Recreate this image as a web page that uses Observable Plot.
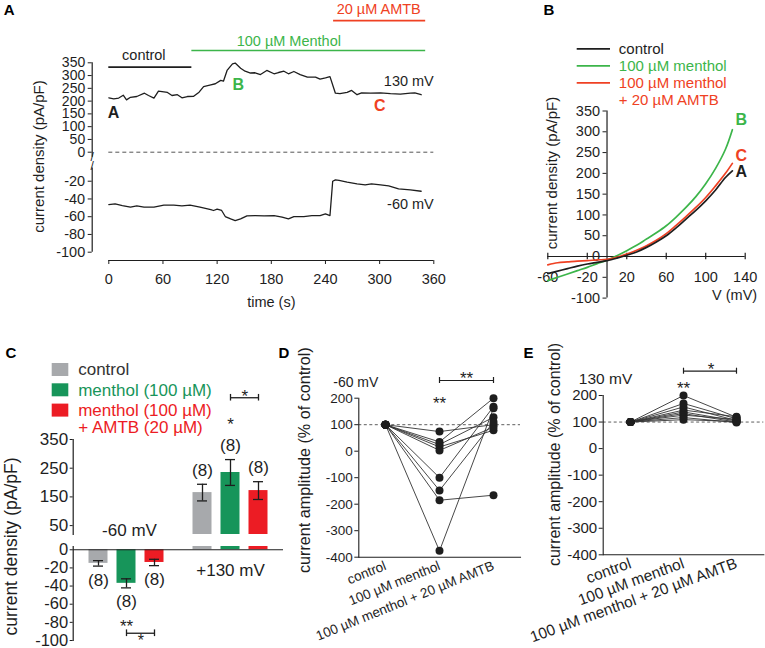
<!DOCTYPE html>
<html><head><meta charset="utf-8">
<script src="https://cdn.jsdelivr.net/npm/d3@7"></script>
<script src="https://cdn.jsdelivr.net/npm/@observablehq/plot@0.6"></script>
<style>
html,body{margin:0;padding:0;background:#fff;}
#fig{position:relative;width:765px;height:648px;overflow:hidden;background:#fff;}
#fig svg{position:absolute;left:0;top:0;background:transparent !important;overflow:visible;max-width:none !important;}
</style></head>
<body><div id="fig"></div>
<script>
// ================= DATA =================
// Panel A: time course at +130 mV and -60 mV
const timeA130 = [0,5.5,11,16,19.6,24,31,39.5,44,50,55,65,70,76,81,87,94,100,105,113,118,124,127,131,137,140,146,151,157,162,168,175,183,188,194,199,205,212,220,229,234,240,245,251,256,264,269,275,280,290,301,312,323,334,339,346];
const currentA130 = [213,209,212,223,205,215,218,231,222,212,239,234,222,225,213,218,219,235,257,264,268,281,278,320,346,349,329,317,310,311,304,320,307,312,317,307,316,304,294,294,286,291,296,231,229,234,242,225,232,231,232,229,227,231,232,225];
const timeA60 = [0,7,15,24,31,39,50,61,72,81,90,101,113,116,120,125,129,135,140,146,153,162,172,183,192,199,205,216,225,234,240,245,248,251,255,264,275,284,291,301,310,321,334,346];
const currentA60 = [-46.3,-45.5,-47.4,-49.3,-47.8,-49.3,-49.3,-47,-47,-47.8,-47,-49.3,-52,-53,-51.5,-53,-59.8,-62.4,-64.3,-62.4,-59,-58.7,-59,-58.7,-60.6,-62.4,-59.8,-59.8,-58.7,-58.7,-56.8,-58.7,-20,-18.5,-19,-21.1,-23,-24.1,-23,-24.1,-25.3,-28.6,-29.8,-31.3];
const periodLabels = ["control", "100 µM Menthol", "20 µM AMTB"];
const periodStart = [0, 92, 249];
const periodEnd = [92, 351, 351];
const timeTicksA = [0,60,120,180,240,300,360];
const upperTicksA = [0,50,100,150,200,250,300,350];
const lowerTicksA = [-20,-40,-60,-80,-100];

// Panel B: I-V relations
const voltageB = [-60,-50,-40,-30,-20,-10,0,10,20,30,40,50,60,70,80,90,100,110,120,127];
const ivControl = [-41,-35,-29,-23,-18,-14,-10,-4,3,11,22,35,50,69,90,111,134,160,190,206];
const ivMenthol = [-58,-50,-42,-34,-26,-17,-9,2,14,27,42,57,74,95,118,144,175,212,258,305];
const ivAmtb = [-20,-15,-13,-11,-10,-8,-7,-2,6,15,26,39,55,75,96,118,142,170,200,224];
const legendB = ["control", "100 µM menthol", "100 µM menthol\n+ 20 µM AMTB"];
const tagsB = ["A", "B", "C"];
const xTicksB = [-60,-20,20,60,100,140];
const yTicksB = [350,300,250,200,150,100,50,0,-50,-100];

// Panel C: bar chart
const cGroups = ["-60 mV", "+130 mV"];
const cTreat = ["control", "menthol (100 µM)", "menthol (100 µM)\n+ AMTB (20 µM)"];
const cMean60 = [-15, -37, -14];
const cSem60 = [3, 5, 3.5];
const cMean130 = [165, 235, 172];
const cSem130 = [29, 45, 31];
const cN = [8, 8, 8];
const cUpperTicks = [50,150,250,350];
const cLowerTicks = [0,-20,-40,-60,-80,-100];

// Panels D and E: paired data (% of control)
const dConditions = ["control", "100 µM menthol", "100 µM menthol + 20 µM AMTB"];
const dControl = [100,100,100,100,100,100,100,100,100];
const dMenthol = [74,35,25,16,3,-100,-148,-185,-376];
const dAmtb = [100,200,128,79,91,168,110,-166,162];
const eControl = [100,100,100,100,100,100,100,100,100];
const eMenthol = [200,170,157,145,138,132,126,117,109];
const eAmtb = [118,112,106,120,104,100,110,98,102];
const ddTicks = [200,100,0,-100,-200,-300,-400];

// ================= STYLE / LAYOUT =================
const W = 765, H = 648;
const FONT = '"Liberation Sans", Arial, Helvetica, sans-serif';
const INK = "#1e1e1e";
const GREEN_A = "#3cb54a", RED_A = "#ef4123";
const C_COLORS = ["#a7a9ac", "#17955a", "#ec1c24"];
const fig = document.getElementById("fig");
function add(opts) {
  const svg = Plot.plot({width: W, height: H, ...opts,
    style: {fontFamily: FONT, fontSize: "14px", color: INK, background: "transparent", overflow: "visible"}});
  fig.appendChild(svg);
  return svg;
}
function box(left, top, right, bottom) {
  return {marginLeft: left, marginTop: top, marginRight: W - right, marginBottom: H - bottom};
}

// ================= PANEL A =================
const LA = {x0:108.3, x1:433.3, yAxisX:91.7, upTop:62.3, upBot:151.7, loTop:167.4, loBot:251.7, xAxisY:260};
const dxA = LA.yAxisX - LA.x0;
const fsA = 14.5;
const periodColors = [INK, GREEN_A, RED_A];
const periodLayout = {lineLevel:[333, 398, 515], labelLevel:[378.6, 434.6, 557.6], labelTime:[38.8, 199.4, 299]};
const periodsA = periodLabels.map((label, i) => ({label, start: periodStart[i], end: periodEnd[i], color: periodColors[i]}));
const traceA130 = timeA130.map((t, i) => ({t, v: currentA130[i]}));
const traceA60 = timeA60.map((t, i) => ({t, v: currentA60[i]}));
const markerA = [{tag:"A", color: INK}, {tag:"B", color: GREEN_A}, {tag:"C", color: RED_A}];
const markerLayoutA = [[5.2, 153.5], [143.5, 265], [300.2, 181]];

add({
  ...box(LA.x0, LA.upTop, LA.x1, LA.upBot),
  x: {domain: [0, 360], axis: null},
  y: {domain: [0, 350]},
  marks: [
    Plot.axisY(upperTicksA, {dx: dxA, tickSize: 4, tickPadding: 3, fontSize: 14, label: null, tickFormat: String}),
    Plot.ruleX([0], {y1: -20, y2: 350, dx: dxA, stroke: INK, strokeWidth: 1.2}),
    Plot.text(["/"], {frameAnchor: "bottom-left", textAnchor: "middle", lineAnchor: "middle", dx: dxA, dy: 5, fontSize: 12, fill: INK}),
    Plot.ruleY([0], {x1: 0, x2: 360, stroke: "#555", strokeWidth: 1, strokeDasharray: "4,3"}),
    Plot.line(traceA130, {x: "t", y: "v", stroke: INK, strokeWidth: 1.3}),
    Plot.ruleY(periodsA, {x1: "start", x2: "end", y: (d, i) => periodLayout.lineLevel[i], stroke: "color", strokeWidth: 1.6}),
    Plot.text(periodsA, {x: (d, i) => periodLayout.labelTime[i], y: (d, i) => periodLayout.labelLevel[i], text: "label", fill: "color", fontSize: fsA}),
    Plot.text(markerA, {x: (d, i) => markerLayoutA[i][0], y: (d, i) => markerLayoutA[i][1], text: "tag", fill: "color", fontSize: 16, fontWeight: "bold"}),
    Plot.text(["130 mV"], {x: 360, y: 277, textAnchor: "end", fontSize: fsA, fill: INK})
  ]
});
add({
  ...box(LA.x0, LA.loTop, LA.x1, LA.loBot),
  x: {domain: [0, 360]},
  y: {domain: [-100, -5]},
  marks: [
    Plot.axisY(lowerTicksA, {dx: dxA, tickSize: 4, tickPadding: 3, fontSize: fsA, label: null, tickFormat: String}),
    Plot.ruleX([0], {y1: -100, y2: -5, dx: dxA, stroke: INK, strokeWidth: 1.2}),
    Plot.text(["/"], {frameAnchor: "top-left", textAnchor: "middle", lineAnchor: "middle", dx: dxA, dy: -2, fontSize: 12, fill: INK}),
    Plot.axisX(timeTicksA, {dy: LA.xAxisY - LA.loBot, tickSize: 4, tickPadding: 9, fontSize: fsA, label: null, tickFormat: String}),
    Plot.ruleY([-100], {x1: 0, x2: 360, dy: LA.xAxisY - LA.loBot, stroke: INK, strokeWidth: 1.2}),
    Plot.line(traceA60, {x: "t", y: "v", stroke: INK, strokeWidth: 1.3}),
    Plot.text(["-60 mV"], {x: 360, y: -46, textAnchor: "end", fontSize: fsA, fill: INK}),
    Plot.text(["time (s)"], {frameAnchor: "bottom", lineAnchor: "middle", dy: 302 - LA.loBot, fontSize: fsA, fill: INK})
  ]
});

// ================= PANEL B =================
const LB = {x0: 547.3, x1: 744.7, top: 110.5, bottom: 297.6};
const fsB = 14.5;
const xB = v => LB.x0 + (v + 60) / 200 * (LB.x1 - LB.x0);
const yB = v => LB.bottom - (v + 100) / 450 * (LB.bottom - LB.top);
const seriesB = [
  {name: legendB[1], values: ivMenthol, color: GREEN_A, tag: tagsB[1], tagDy: -10},
  {name: legendB[2], values: ivAmtb, color: RED_A, tag: tagsB[2], tagDy: -8},
  {name: legendB[0], values: ivControl, color: INK, tag: tagsB[0], tagDy: 1}
];
const ivLong = seriesB.flatMap(s => voltageB.map((v, i) => ({v, i: s.values[i], series: s.name, color: s.color})));
add({
  ...box(LB.x0, LB.top, LB.x1, LB.bottom),
  x: {domain: [-60, 140]},
  y: {domain: [-100, 350]},
  marks: [
    Plot.ruleY([0], {x1: -60, x2: 140, stroke: INK, strokeWidth: 1.2}),
    Plot.ruleX(xTicksB, {y1: -8, y2: 8, stroke: INK, strokeWidth: 1.2}),
    Plot.axisX(xTicksB, {tickSize: 0, dy: yB(0) - LB.bottom, tickPadding: 15, fontSize: fsB, label: null, tickFormat: String}),
    Plot.ruleX([0], {y1: -100, y2: 350, stroke: INK, strokeWidth: 1.2}),
    Plot.axisY(yTicksB, {dx: xB(0) - LB.x0, tickSize: 4, tickPadding: 3, fontSize: fsB, label: null, tickFormat: d => d === -50 ? "" : String(d)}),
    Plot.line(ivLong, {x: "v", y: "i", z: "series", stroke: "color", strokeWidth: 1.7, curve: "catmull-rom"}),
    ...seriesB.map(s => Plot.text([s], {x: () => voltageB[voltageB.length - 1], y: d => d.values[d.values.length - 1], text: "tag", fill: "color", dx: 9, dy: s.tagDy, fontSize: 16, fontWeight: "bold"})),
    Plot.text(["V (mV)"], {frameAnchor: "bottom-right", textAnchor: "end", lineAnchor: "middle", dx: 12, dy: -2.6, fontSize: fsB, fill: INK})
  ]
});

// ================= PANEL C =================
const LC = {axisX: 72.7, fx0: 82.5, fx1: 272.7, upTop: 439, upBot: 534, loTop: 546, loBot: 640, baseRight: 283};
const fsC = 17;
const cUp = [19, 350], cLo = [-100, 3.6];
const cRows = [];
cGroups.forEach((g, gi) => cTreat.forEach((t, ti) => cRows.push({
  group: g, treat: t, color: C_COLORS[ti], n: cN[ti],
  mean: gi === 0 ? cMean60[ti] : cMean130[ti],
  sem: gi === 0 ? cSem60[ti] : cSem130[ti]
})));
const fxC = {domain: cGroups, paddingInner: 0.178, paddingOuter: 0, axis: null};
const xC = {domain: cTreat, paddingInner: 0.336, paddingOuter: 0.168, axis: null};
const barMarksC = () => [
  Plot.barY(cRows, {fx: "group", x: "treat", y1: 0, y2: "mean", fill: "color", clip: true}),
  Plot.ruleX(cRows, {fx: "group", x: "treat", y1: d => d.mean - d.sem, y2: d => d.mean + d.sem, stroke: INK, strokeWidth: 1.3, clip: true}),
  Plot.tickY(cRows, {fx: "group", x: "treat", y: d => d.mean - d.sem, stroke: INK, strokeWidth: 1.3, insetLeft: 4.5, insetRight: 4.5, clip: true}),
  Plot.tickY(cRows, {fx: "group", x: "treat", y: d => d.mean + d.sem, stroke: INK, strokeWidth: 1.3, insetLeft: 4.5, insetRight: 4.5, clip: true})
];
const sigStarC = [{group: cGroups[0], treat: cTreat[1], text: "**"}, {group: cGroups[1], treat: cTreat[1], text: "*"}];
const sigBarC = [{group: cGroups[0], from: cTreat[1], to: cTreat[2], text: "*"}, {group: cGroups[1], from: cTreat[1], to: cTreat[2], text: "*"}];
add({
  ...box(LC.fx0, LC.upTop, LC.fx1, LC.upBot),
  fx: fxC, x: xC, y: {domain: cUp, axis: null},
  marks: [
    ...barMarksC(),
    Plot.text(cRows.filter(d => d.mean > 0), {fx: "group", x: "treat", y: d => d.mean + d.sem, dy: -14, text: d => `(${d.n})`, fontSize: fsC, fill: INK}),
    Plot.text([sigStarC[1]], {fx: "group", x: "treat", y: 401, text: "text", fontSize: fsC, fill: INK}),
    Plot.link([sigBarC[1]], {fx: "group", x1: "from", x2: "to", y1: 495.5, y2: 495.5, stroke: INK, strokeWidth: 1.3}),
    Plot.ruleX([sigBarC[1], sigBarC[1]], {fx: "group", x: (d, i) => i ? d.to : d.from, y1: 484, y2: 507, stroke: INK, strokeWidth: 1.3}),
    Plot.text([sigBarC[1]], {fx: "group", x: "from", y: 500, dx: 14.3, text: "text", fontSize: fsC, fill: INK}),
    Plot.text([{group: cGroups[0], treat: cTreat[1]}], {fx: "group", x: "treat", y: 32.6, dx: 3, text: d => d.group, fontSize: fsC, fill: INK})
  ]
});
add({
  ...box(LC.fx0, LC.loTop, LC.fx1, LC.loBot),
  fx: fxC, x: xC, y: {domain: cLo, axis: null},
  marks: [
    ...barMarksC(),
    Plot.text(cRows.filter(d => d.mean < 0), {fx: "group", x: "treat", y: d => d.mean - d.sem, dy: 14, text: d => `(${d.n})`, fontSize: fsC, fill: INK}),
    Plot.text([sigStarC[0]], {fx: "group", x: "treat", y: -84.5, text: "text", fontSize: fsC, fill: INK}),
    Plot.link([sigBarC[0]], {fx: "group", x1: "from", x2: "to", y1: -92, y2: -92, stroke: INK, strokeWidth: 1.3}),
    Plot.ruleX([sigBarC[0], sigBarC[0]], {fx: "group", x: (d, i) => i ? d.to : d.from, y1: -88.3, y2: -95.7, stroke: INK, strokeWidth: 1.3}),
    Plot.text([sigBarC[0]], {fx: "group", x: "from", y: -100, dx: 14.3, text: "text", fontSize: 16, fill: INK}),
    Plot.text([{group: cGroups[1], treat: cTreat[1]}], {fx: "group", x: "treat", y: -22.8, text: d => d.group, fontSize: fsC, fill: INK})
  ]
});
add({
  ...box(LC.axisX, LC.upTop, LC.baseRight, LC.upBot),
  y: {domain: cUp},
  marks: [
    Plot.axisY(cUpperTicks, {tickSize: 3, tickPadding: 2, fontSize: fsC, label: null, tickFormat: String}),
    Plot.frame({anchor: "left", stroke: INK, strokeWidth: 1.2})
  ]
});
add({
  ...box(LC.axisX, LC.loTop, LC.baseRight, LC.loBot),
  y: {domain: cLo},
  marks: [
    Plot.axisY(cLowerTicks, {tickSize: 3, tickPadding: 2, fontSize: 16.5, label: null, tickFormat: String}),
    Plot.frame({anchor: "left", stroke: INK, strokeWidth: 1.2}),
    Plot.ruleY([0], {stroke: INK, strokeWidth: 1.2})
  ]
});

// ================= PANELS D & E =================
function pairedPanel(frame, ctrl, menth, amtb, ann) {
  const rows = [];
  ctrl.forEach((_, i) => {
    rows.push({id: i, cond: dConditions[0], value: ctrl[i]});
    rows.push({id: i, cond: dConditions[1], value: menth[i]});
    rows.push({id: i, cond: dConditions[2], value: amtb[i]});
  });
  const k = (frame.bottom - frame.top) / 600;
  const lvl = px => 200 + (frame.top - px) / k;
  add({
    ...box(frame.left, frame.top, frame.right, frame.bottom),
    x: {type: "point", domain: dConditions, padding: frame.pad},
    y: {domain: [-400, 200]},
    marks: [
      Plot.ruleY([100], {stroke: "#333", strokeWidth: 0.8, strokeDasharray: "3,2.5"}),
      Plot.frame({anchor: "left", stroke: INK, strokeWidth: 1.1}),
      Plot.frame({anchor: "bottom", stroke: INK, strokeWidth: 1.1}),
      Plot.axisY(ddTicks, {tickSize: 4, tickPadding: 2, fontSize: ann.tickFs, label: null, tickFormat: String}),
      Plot.axisX(dConditions, {tickSize: 0, tickRotate: ann.rot, tickPadding: 8, fontSize: ann.catFs, label: null}),
      Plot.line(rows, {x: "cond", y: "value", z: "id", stroke: "#333", strokeWidth: 0.9}),
      Plot.dot(rows, {x: "cond", y: "value", r: 4, fill: INK}),
      Plot.text([ann.voltage], {frameAnchor: "top-left", textAnchor: "middle", lineAnchor: "middle", dx: ann.vdx, dy: ann.vdy, fontSize: ann.tickFs + 0.5, fill: INK}),
      Plot.text([ann.star], {x: () => dConditions[1], y: lvl(ann.starPx), fontSize: 17, fill: INK}),
      Plot.link([0], {x1: () => dConditions[1], x2: () => dConditions[2], y1: lvl(ann.barPx), y2: lvl(ann.barPx), stroke: INK, strokeWidth: 1.2}),
      Plot.ruleX([dConditions[1], dConditions[2]], {y1: lvl(ann.barPx - 3), y2: lvl(ann.barPx + 3), stroke: INK, strokeWidth: 1.2}),
      Plot.text([ann.barStar], {x: () => dConditions[1], dx: ann.barDx, y: lvl(ann.barStarPx), fontSize: 17, fill: INK})
    ]
  });
}
pairedPanel({left: 358.3, right: 520, top: 397.7, bottom: 556.7, pad: 0.49}, dControl, dMenthol, dAmtb,
  {voltage: "-60 mV", vdx: -3, vdy: -16, star: "**", starPx: 403.5, barPx: 380, barStar: "**", barStarPx: 377.8, barDx: 27,
   tickFs: 13.5, catFs: 13.5, rot: -22});
pairedPanel({left: 602.7, right: 763.3, top: 395, bottom: 554.3, pad: 0.495}, eControl, eMenthol, eAmtb,
  {voltage: "130 mV", vdx: 2.3, vdy: -16.7, star: "**", starPx: 388.5, barPx: 370.7, barStar: "*", barStarPx: 369.5, barDx: 27.5,
   tickFs: 15, catFs: 15.5, rot: -20});

// ================= OVERLAY: panel letters, axis titles, legends =================
const letters = ["A", "B", "C", "D", "E"];
const letterPos = [[3.3, 10], [543, 10], [5, 353], [278, 353], [523, 353]];
const yTitles = [
  {text: "current density (pA/pF)", pos: [39, 156], size: 15},
  {text: "current density (pA/pF)", pos: [552, 172.5], size: 15},
  {text: "current density (pA/pF)", pos: [11, 546], size: 17.5},
  {text: "current amplitude (% of control)", pos: [304.7, 459.7], size: 16.2},
  {text: "current amplitude (% of control)", pos: [554, 454], size: 16}
];
const legBColors = [INK, GREEN_A, RED_A];
const legBRows = legendB.flatMap((name, i) => name.split("\n").map((s, j) => ({s, color: legBColors[i], row: i + j, first: j === 0})));
const legBy = r => 48.3 + 17 * r;
const legCRows = cTreat.flatMap((name, i) => name.split("\n").map((s, j) => ({s, color: i === 0 ? "#333" : C_COLORS[i], item: i, line: j})));
const legCy = (item, line) => 369.5 + 20.3 * item + 16.6 * line;
add({
  margin: 0,
  x: {type: "identity", axis: null},
  y: {type: "identity", axis: null},
  marks: [
    Plot.text(letters, {x: (d, i) => letterPos[i][0], y: (d, i) => letterPos[i][1], text: d => d, textAnchor: "start", fontWeight: "bold", fontSize: 15, fill: "#000"}),
    ...yTitles.map(t => Plot.text([t], {x: d => d.pos[0], y: d => d.pos[1], text: "text", rotate: -90, fontSize: t.size, fill: INK})),
    Plot.ruleY(legBRows.filter(d => d.first), {x1: 576.7, x2: 610, y: d => legBy(d.row), stroke: "color", strokeWidth: 1.8}),
    Plot.text(legBRows, {x: 618.3, y: d => legBy(d.row), text: "s", fill: "color", textAnchor: "start", fontSize: 15}),
    Plot.rect(cTreat, {x1: 51.7, x2: 68.3, y1: (d, i) => legCy(i, 0) - 6.5, y2: (d, i) => legCy(i, 0) + 6.5, fill: (d, i) => C_COLORS[i]}),
    Plot.text(legCRows, {x: 77.7, y: d => legCy(d.item, d.line), text: "s", fill: "color", textAnchor: "start", fontSize: fsC})
  ]
});
</script>
</body></html>
